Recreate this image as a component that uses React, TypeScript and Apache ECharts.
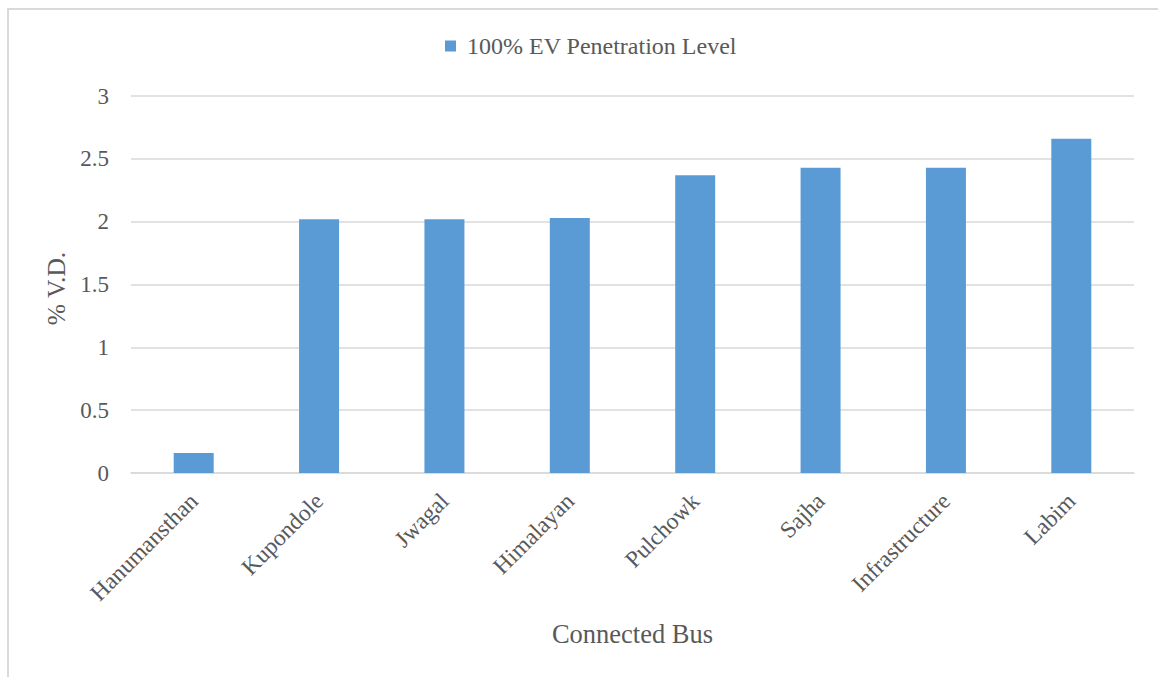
import React, { useEffect, useRef } from "react";
import * as echarts from "echarts";

// Bus names along the category axis
const buses = [
  "Hanumansthan",
  "Kupondole",
  "Jwagal",
  "Himalayan",
  "Pulchowk",
  "Sajha",
  "Infrastructure",
  "Labim",
];

// Percentage voltage drop at each bus with every EV connected
const voltageDrop = [0.16, 2.02, 2.02, 2.03, 2.37, 2.43, 2.43, 2.66];

const seriesName = "100% EV Penetration Level";
const xAxisTitle = "Connected Bus";
const yAxisTitle = "% V.D.";

const FONT = "Liberation Serif";
const TEXT = "#595959";
const LINE = "#d9d9d9";
const BAR = "#5b9bd5";

export default function App() {
  const ref = useRef<HTMLDivElement>(null);

  useEffect(() => {
    if (!ref.current) return;
    const chart = echarts.init(ref.current, undefined, { renderer: "svg" });
    chart.setOption({
      animation: false,
      backgroundColor: "#ffffff",
      textStyle: { fontFamily: FONT, color: TEXT },
      graphic: [
        {
          type: "rect",
          silent: true,
          shape: { x: 8, y: 9, width: 2000, height: 2000 },
          style: { fill: "none", stroke: LINE, lineWidth: 2 },
        },
      ],
      legend: {
        left: 445,
        top: 34,
        padding: 0,
        icon: "rect",
        itemWidth: 11,
        itemHeight: 11,
        textStyle: {
          fontFamily: FONT,
          fontSize: 24,
          color: TEXT,
          padding: [0, 0, 0, 6],
        },
        data: [seriesName],
      },
      grid: { left: 131, right: 24, top: 96, bottom: 204 },
      xAxis: {
        type: "category",
        data: buses,
        name: xAxisTitle,
        nameLocation: "middle",
        nameGap: 147,
        nameTextStyle: { fontFamily: FONT, fontSize: 26.5, color: TEXT },
        axisLine: { lineStyle: { color: LINE, width: 1.5 } },
        axisTick: { show: false },
        axisLabel: {
          rotate: 45,
          margin: 24,
          fontFamily: FONT,
          fontSize: 23.5,
          color: TEXT,
          interval: 0,
        },
      },
      yAxis: {
        type: "value",
        min: 0,
        max: 3,
        interval: 0.5,
        name: yAxisTitle,
        nameLocation: "middle",
        nameGap: 60,
        nameRotate: 90,
        nameTextStyle: {
          fontFamily: FONT,
          fontSize: 25.5,
          color: TEXT,
          padding: [0, 8, 0, 0],
        },
        axisLine: { show: false },
        axisTick: { show: false },
        axisLabel: { margin: 22, fontFamily: FONT, fontSize: 23, color: TEXT },
        splitLine: { lineStyle: { color: LINE, width: 1.5 } },
      },
      series: [
        {
          name: seriesName,
          type: "bar",
          data: voltageDrop,
          barWidth: 40,
          itemStyle: { color: BAR },
        },
      ],
    });
    return () => chart.dispose();
  }, []);

  return (
    <div
      ref={ref}
      style={{ position: "absolute", left: 0, top: 0, width: 1158, height: 677 }}
    />
  );
}
